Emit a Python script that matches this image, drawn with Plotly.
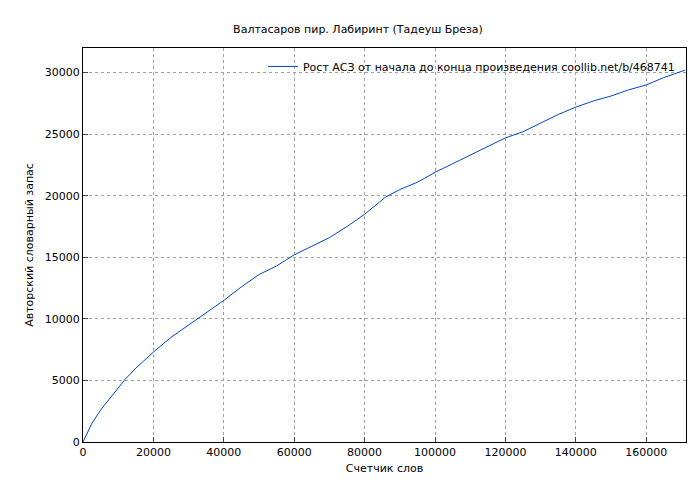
import plotly.graph_objects as go

words = [0, 1000, 2500, 5000, 7500, 10000, 12000, 15000, 20000, 25000, 30000, 35000, 40000, 45000, 50000,
         55000, 60000, 65000, 70000, 75000, 80000, 86000, 90000, 95000, 100000, 105000, 110000, 115000,
         120000, 125000, 130000, 135000, 140000, 145000, 150000, 155000, 160000, 165000, 171000]
vocab = [0, 600, 1500, 2600, 3500, 4400, 5100, 6000, 7300, 8500, 9500, 10500, 11500, 12600, 13600,
         14300, 15200, 15900, 16600, 17500, 18500, 19900, 20500, 21100, 21900, 22600, 23300, 24000,
         24700, 25200, 25900, 26600, 27200, 27700, 28100, 28600, 29000, 29600, 30200]

fig = go.Figure(go.Scatter(x=words, y=vocab, mode="lines", line=dict(color="#0047c8", width=1),
                           name="Рост АСЗ от начала до конца произведения coollib.net/b/468741"))
ax = dict(showline=True, linecolor="black", mirror=True, ticks="inside", ticklen=5,
          gridcolor="#a0a0a0", griddash="dot", gridwidth=1, zeroline=False, automargin=False,
          tickformat="d", tickfont=dict(size=11, color="black"), title_font=dict(size=11, color="black"))
fig.update_layout(
    width=700, height=480, margin=dict(l=75, r=22, t=40, b=46),
    paper_bgcolor="white", plot_bgcolor="white",
    font=dict(family="DejaVu Sans", size=11, color="black"),
    title=dict(text="Валтасаров пир. Лабиринт (Тадеуш Бреза)", x=0.5, y=0.965, font=dict(size=11)),
    showlegend=True,
    legend=dict(x=0.99, y=0.99, xanchor="right", yanchor="top", bgcolor="rgba(0,0,0,0)", font=dict(size=11)),
)
fig.update_xaxes(ax, range=[0, 171300], dtick=20000, title_text="Счетчик слов", title_standoff=6)
fig.update_yaxes(ax, range=[0, 32000], dtick=5000, title_text="Авторский словарный запас", title_standoff=8)
fig.write_html("out.html")
